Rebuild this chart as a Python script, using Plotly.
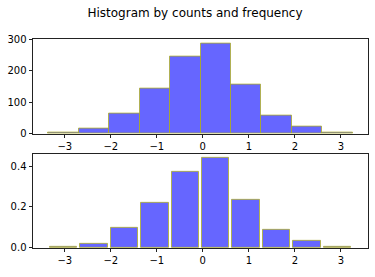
import plotly.graph_objects as go

bin_edges = [-3.36, -2.698, -2.036, -1.374, -0.712, -0.05, 0.612, 1.274, 1.936, 2.598, 3.26]
counts = [4, 15, 64, 143, 244, 287, 156, 58, 22, 4]
density = [0.007, 0.022, 0.1, 0.218, 0.371, 0.438, 0.237, 0.088, 0.035, 0.007]
x_ticks = [-3, -2, -1, 0, 1, 2, 3]
top_yticks = [0, 100, 200, 300]
bot_yticks = [0.0, 0.2, 0.4]
title = "Histogram by counts and frequency"

centers = [(a + b) / 2 for a, b in zip(bin_edges[:-1], bin_edges[1:])]
widths = [b - a for a, b in zip(bin_edges[:-1], bin_edges[1:])]

W, H = 375, 277
fill = "rgba(0,0,255,0.6)"
edge = "rgba(175,175,40,0.8)"
font = dict(family="DejaVu Sans", size=10, color="black")

fig = go.Figure()
fig.add_trace(go.Bar(x=centers, y=counts, width=widths, xaxis="x", yaxis="y",
                     marker=dict(color=fill, line=dict(color=edge, width=1)),
                     showlegend=False))
fig.add_trace(go.Bar(x=centers, y=density, width=[w * 0.9 for w in widths], xaxis="x2", yaxis="y2",
                     marker=dict(color=fill, line=dict(color=edge, width=1)),
                     showlegend=False))

xr = [-3.69, 3.59]
axis_common = dict(showline=True, mirror=True, linecolor="#222", linewidth=1,
                   ticks="outside", ticklen=3.5, tickwidth=0.8, tickcolor="#222",
                   showgrid=False, zeroline=False, tickfont=font)
fig.update_layout(
    width=W, height=H, margin=dict(l=0, r=0, t=0, b=0),
    paper_bgcolor="white", plot_bgcolor="white", bargap=0,
    font=font,
    title=dict(text=title, x=195 / W, xanchor="center", y=1 - 13 / H, yanchor="middle",
               font=dict(family="DejaVu Sans", size=12, color="black")),
    xaxis=dict(domain=[33 / W, 368 / W], range=xr, anchor="y", tickvals=x_ticks, **axis_common),
    yaxis=dict(domain=[1 - 134 / H, 1 - 35 / H], range=[0, 301.4], anchor="x",
               tickvals=top_yticks, **axis_common),
    xaxis2=dict(domain=[33 / W, 368 / W], range=xr, anchor="y2", tickvals=x_ticks, **axis_common),
    yaxis2=dict(domain=[1 - 253 / H, 1 - 155 / H], range=[0, 0.4595], anchor="x2",
                tickvals=bot_yticks, tickformat=".1f", **axis_common),
)
fig.write_html("out.html")
